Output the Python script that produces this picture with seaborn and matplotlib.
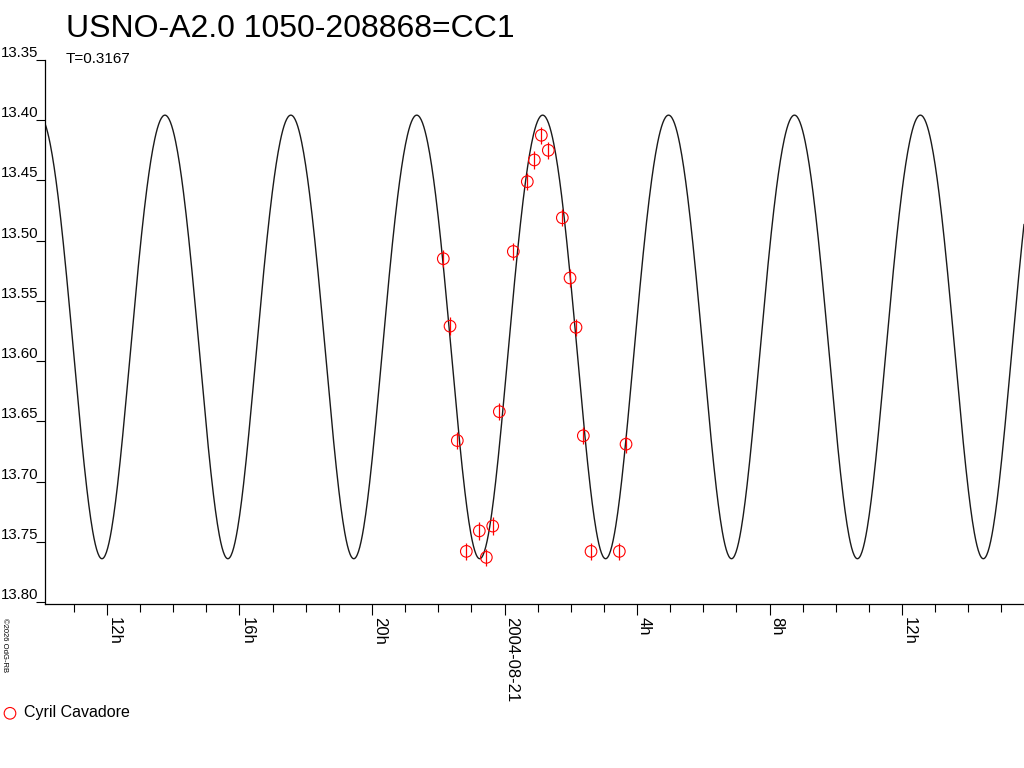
import numpy as np
import matplotlib
matplotlib.use("Agg")
import matplotlib.pyplot as plt
from matplotlib.ticker import MultipleLocator, FuncFormatter
import seaborn as sns

# observations (hours from 2004-08-21 00h UT, magnitudes)
obs_hours = [-1.848, -1.645, -1.425, -1.153, -0.761, -0.549, -0.356, -0.157,
             0.266, 0.688, 0.900, 1.111, 1.322, 1.745, 1.977, 2.158,
             2.379, 2.611, 3.466, 3.668]
obs_mag = [13.515, 13.571, 13.666, 13.758, 13.741, 13.763, 13.737, 13.642,
           13.509, 13.451, 13.433, 13.4125, 13.425, 13.481, 13.531, 13.572,
           13.662, 13.758, 13.758, 13.669]
obs_err = [0.0072] * len(obs_mag)
observer = "Cyril Cavadore"

# fitted light-curve model (double wave, T in days)
period_days = 0.3167
mag_mean = 13.5644
flux_amp = 0.168
t_max_hours = 1.151

x_range = (-13.87, 15.68)
y_range = (13.8017, 13.35)
y_ticks = [13.35, 13.40, 13.45, 13.50, 13.55, 13.60, 13.65, 13.70, 13.75, 13.80]

title = "USNO-A2.0 1050-208868=CC1"
subtitle = f"T={period_days}"
credit = "\u00a92026 OdG-RB"

sns.set_style("ticks")
plt.rcParams["font.family"] = ["Liberation Sans", "DejaVu Sans"]
plt.rcParams["text.color"] = "black"
plt.rcParams["xtick.color"] = "black"
plt.rcParams["ytick.color"] = "black"

fig = plt.figure(figsize=(10.24, 7.68), dpi=100)
ax = fig.add_axes([45 / 1024, 164 / 768, 979 / 1024, 544 / 768])

# model curve
curve_t = np.linspace(x_range[0], x_range[1], 1500)
phase = 2 * np.pi * (curve_t - t_max_hours) / (period_days / 2 * 24)
curve_mag = mag_mean - 2.5 * np.log10(1 + flux_amp * np.cos(phase))
sns.lineplot(x=curve_t, y=curve_mag, ax=ax, color="#1a1a1a", lw=1.0,
             estimator=None, sort=False)

# measurements
ax.errorbar(obs_hours, obs_mag, yerr=obs_err, fmt="none", ecolor="red",
            elinewidth=0.9, capsize=0, zorder=3)
sns.scatterplot(x=obs_hours, y=obs_mag, ax=ax, marker="o", s=70,
                facecolor="none", edgecolor="red", linewidth=0.8,
                label=observer, zorder=4, legend=False)

ax.set_xlim(*x_range)
ax.set_ylim(*y_range)
ax.set_yticks(y_ticks)
ax.yaxis.set_major_formatter(FuncFormatter(lambda v, p: f"{v:.2f}"))
ax.xaxis.set_major_locator(MultipleLocator(4))
ax.xaxis.set_minor_locator(MultipleLocator(1))


def hour_label(v, pos):
    h = int(round(v)) % 24
    if h == 0:
        return "2004-08-21"
    return f"{h}h"


ax.xaxis.set_major_formatter(FuncFormatter(hour_label))

for side in ["top", "right"]:
    ax.spines[side].set_visible(False)
for side in ["left", "bottom"]:
    ax.spines[side].set_color("black")
    ax.spines[side].set_linewidth(0.9)

ax.tick_params(axis="y", which="major", length=6.5, width=0.8, pad=-1.5,
               labelsize=10.8, left=True)
ax.tick_params(axis="x", which="major", length=8.2, width=0.8, pad=1.5,
               labelsize=12, bottom=True)
ax.tick_params(axis="x", which="minor", length=5.8, width=0.8, bottom=True)
for lbl in ax.get_yticklabels():
    lbl.set_verticalalignment("bottom")
for lbl in ax.get_xticklabels():
    lbl.set_rotation(270)
    lbl.set_horizontalalignment("left")
    lbl.set_verticalalignment("top")

ax.set_xlabel("")
ax.set_ylabel("")

fig.text(66 / 1024, 1 - 37 / 768, title, fontsize=23, va="baseline", ha="left")
fig.text(66 / 1024, 1 - 63 / 768, subtitle, fontsize=11, va="baseline", ha="left")
fig.text(1 / 1024, 1 - 618 / 768, credit, fontsize=5.5, rotation=270,
         ha="left", va="top")

handles, labels = ax.get_legend_handles_labels()
fig.legend(handles, labels, loc="center left",
           bbox_to_anchor=(2 / 1024, 1 - 713 / 768), frameon=False,
           borderaxespad=0, borderpad=0, handlelength=1.0,
           handletextpad=0.4, fontsize=11.5)

fig.savefig("out.png", dpi=100)
